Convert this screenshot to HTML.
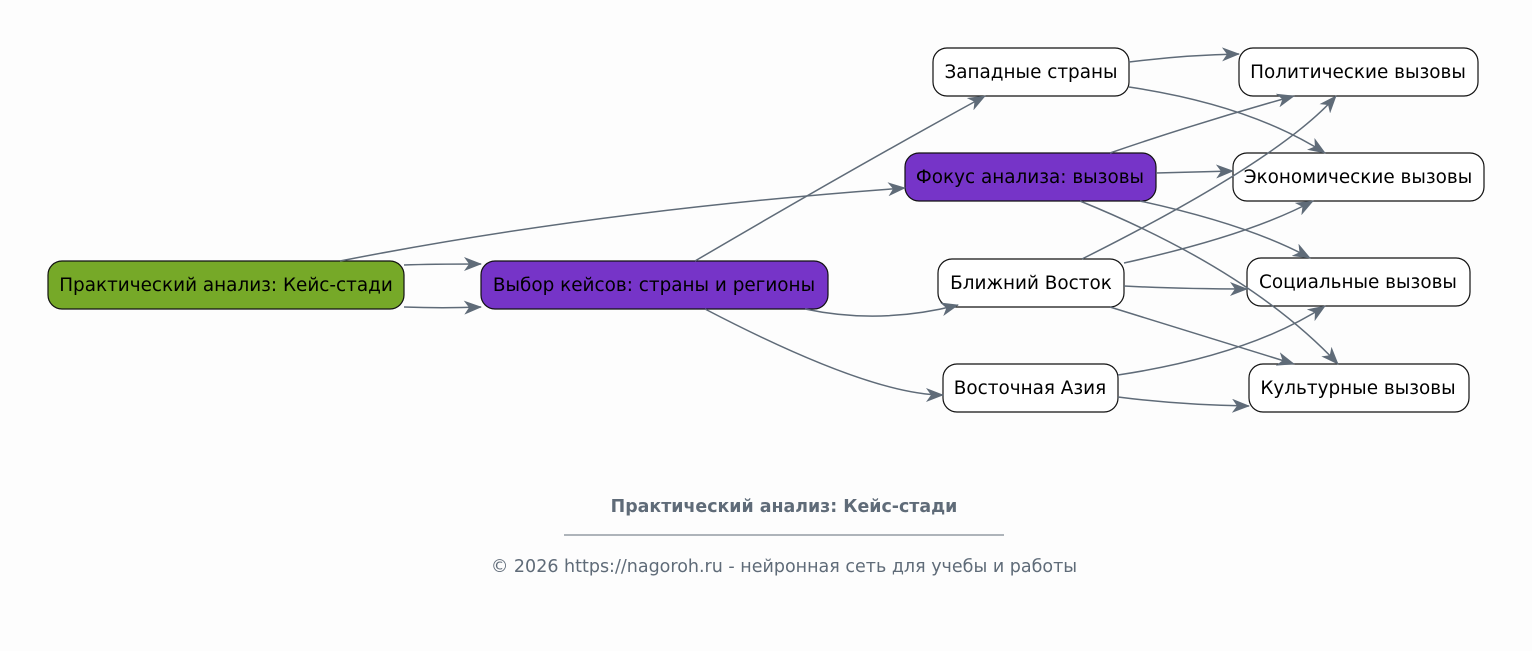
<!DOCTYPE html>
<html><head><meta charset="utf-8"><style>
html,body{margin:0;padding:0;background:#fdfdfd;}
svg{display:block;font-family:"DejaVu Sans","Liberation Sans",sans-serif;}
</style></head><body>
<svg width="1532" height="651" viewBox="0 0 1532 651" xmlns="http://www.w3.org/2000/svg">
<defs>
<marker id="a" viewBox="0 0 18 14" refX="17" refY="7" markerWidth="18" markerHeight="14" markerUnits="userSpaceOnUse" orient="auto">
<path d="M0,0 L18,7 L0,14 L5,7 z" fill="#5f6b78"/>
</marker>
</defs>
<rect width="1532" height="651" fill="#fdfdfd"/>
<g stroke="#111" stroke-width="1.2">
<rect x="48" y="261" width="356" height="48" rx="14" fill="#76a928"/>
<rect x="481" y="261" width="347" height="48" rx="14" fill="#7634c8"/>
<rect x="933" y="48" width="196" height="48" rx="14" fill="#fff"/>
<rect x="905" y="153" width="251" height="48" rx="14" fill="#7634c8"/>
<rect x="938" y="259" width="186" height="48" rx="14" fill="#fff"/>
<rect x="943" y="364" width="175" height="48" rx="14" fill="#fff"/>
<rect x="1239" y="48" width="239" height="48" rx="14" fill="#fff"/>
<rect x="1233" y="153" width="251" height="48" rx="14" fill="#fff"/>
<rect x="1247" y="258" width="223" height="48" rx="14" fill="#fff"/>
<rect x="1249" y="364" width="220" height="48" rx="14" fill="#fff"/>
</g>
<g fill="none" stroke="#5f6b78" stroke-width="1.5" marker-end="url(#a)">
<path d="M340,261 Q600,210 905,188"/>
<path d="M404,265 C430,264 455,264 481,264"/>
<path d="M404,307 C430,308 455,308 481,307"/>
<path d="M695,261 Q850,170 985,96"/>
<path d="M805,309 Q880,325 958,305"/>
<path d="M705,309 Q870,395 943,395"/>
<path d="M1129,62 Q1185,55 1239,54"/>
<path d="M1129,87 Q1250,105 1325,153"/>
<path d="M1110,153 Q1200,122 1294,96"/>
<path d="M1156,173 L1233,171"/>
<path d="M1140,201 Q1250,225 1310,258"/>
<path d="M1080,201 Q1250,270 1338,364"/>
<path d="M1082,259 Q1280,160 1336,96"/>
<path d="M1124,263 Q1250,235 1313,201"/>
<path d="M1124,286 Q1180,289 1247,289"/>
<path d="M1110,307 L1294,364"/>
<path d="M1118,375 Q1250,355 1325,306"/>
<path d="M1118,397 Q1180,405 1249,406"/>
</g>
<g fill="#000" font-size="18.4" text-anchor="middle">
<text x="226" y="291">Практический анализ: Кейс-стади</text>
<text x="654" y="291">Выбор кейсов: страны и регионы</text>
<text x="1031" y="78">Западные страны</text>
<text x="1030" y="183">Фокус анализа: вызовы</text>
<text x="1031" y="289">Ближний Восток</text>
<text x="1030" y="394">Восточная Азия</text>
<text x="1358" y="78">Политические вызовы</text>
<text x="1358" y="183">Экономические вызовы</text>
<text x="1358" y="288">Социальные вызовы</text>
<text x="1358" y="394">Культурные вызовы</text>
</g>
<text x="784" y="512" font-size="17.4" font-weight="bold" fill="#5f6b78" text-anchor="middle">Практический анализ: Кейс-стади</text>
<line x1="564" y1="535" x2="1004" y2="535" stroke="#5f6b78" stroke-width="1"/>
<text x="784" y="572" font-size="17.5" fill="#5f6b78" text-anchor="middle">© 2026 https://nagoroh.ru - нейронная сеть для учебы и работы</text>
</svg>
</body></html>
